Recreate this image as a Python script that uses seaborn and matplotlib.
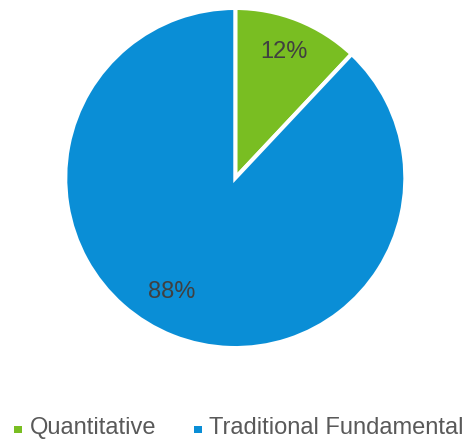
import matplotlib
matplotlib.use("Agg")
import matplotlib.pyplot as plt
from matplotlib.lines import Line2D
import seaborn as sns

# Share of strategies
categories = ["Quantitative", "Traditional Fundamental"]
shares = [12, 88]
colors = ["#79BE22", "#0A8ED6"]

sns.set_theme(style="white")
plt.rcParams["font.family"] = ["Liberation Sans", "DejaVu Sans"]

W, H = 473, 443
fig = plt.figure(figsize=(W / 100, H / 100), dpi=100)
fig.patch.set_facecolor("white")

# pie box: centre (235.3, 178) px from top, radius 168 px
cx, cy, r = 235.3, 178.0, 168.0
ax = fig.add_axes([(cx - r) / W, (H - cy - r) / H, 2 * r / W, 2 * r / H])

edge_w = 2.9
wedges, texts, autotexts = ax.pie(
    shares,
    colors=colors,
    startangle=90,
    counterclock=False,
    radius=1.0 + (edge_w / 72 * 100) / 2 / r,
    autopct=lambda p: f"{p:.0f}%",
    pctdistance=0.8,
    wedgeprops=dict(edgecolor="white", linewidth=edge_w),
    textprops=dict(color="#404040", fontsize=17),
)
ax.set_xlim(-1, 1)
ax.set_ylim(-1, 1)
ax.set_aspect("equal")
ax.axis("off")

# label placement inside wedges
autotexts[0].set_position((0.29, 0.75))
autotexts[1].set_position((-0.38, -0.68))

# square legend key, set slightly low so it sits near the text baseline
key = [(-0.5, -1.0), (0.5, -1.0), (0.5, 0.0), (-0.5, 0.0), (-0.5, -1.0)]
handles = [
    Line2D([], [], marker=key, linestyle="", color=c, markeredgewidth=0,
           markersize=10.3)
    for c in colors
]
fig.legend(
    handles,
    categories,
    loc="center left",
    bbox_to_anchor=(14.5 / W, (H - 428.0) / H),
    ncol=2,
    frameon=False,
    fontsize=17,
    labelcolor="#595959",
    handlelength=0.3,
    handletextpad=0.35,
    columnspacing=1.6,
    borderpad=0,
    borderaxespad=0,
)

fig.savefig("out.png", dpi=100, facecolor="white")
